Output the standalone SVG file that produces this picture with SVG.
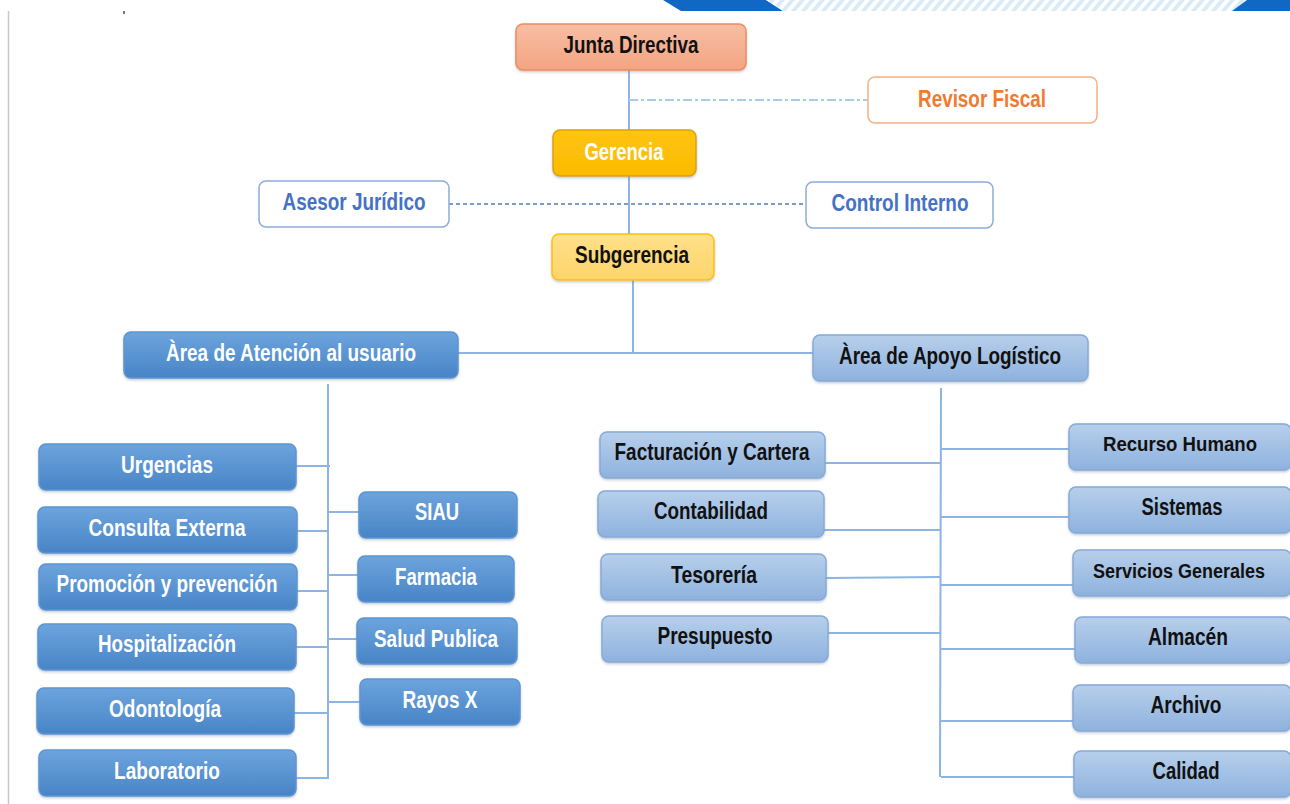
<svg xmlns="http://www.w3.org/2000/svg" width="1290" height="804" viewBox="0 0 1290 804">
<defs>
  <linearGradient id="gBlue" x1="0" y1="0" x2="0" y2="1">
    <stop offset="0" stop-color="#6ca4dd"/>
    <stop offset="1" stop-color="#4884c6"/>
  </linearGradient>
  <linearGradient id="gLight" x1="0" y1="0" x2="0" y2="1">
    <stop offset="0" stop-color="#b7cfeb"/>
    <stop offset="1" stop-color="#8eb2de"/>
  </linearGradient>
  <linearGradient id="gSalmon" x1="0" y1="0" x2="0" y2="1">
    <stop offset="0" stop-color="#f7bea4"/>
    <stop offset="1" stop-color="#f4a482"/>
  </linearGradient>
  <linearGradient id="gGold" x1="0" y1="0" x2="0" y2="1">
    <stop offset="0" stop-color="#ffc411"/>
    <stop offset="1" stop-color="#fbbb00"/>
  </linearGradient>
  <linearGradient id="gSub" x1="0" y1="0" x2="0" y2="1">
    <stop offset="0" stop-color="#ffe08a"/>
    <stop offset="1" stop-color="#fdd46a"/>
  </linearGradient>
  <pattern id="hatch" width="10" height="12" patternUnits="userSpaceOnUse" patternTransform="skewX(-40)">
    <rect width="10" height="12" fill="#ffffff"/>
    <rect width="5" height="12" fill="#d9ebf8"/>
  </pattern>
  <filter id="sh" x="-5%" y="-10%" width="110%" height="130%">
    <feDropShadow dx="0" dy="1.5" stdDeviation="1.2" flood-color="#7a8ea8" flood-opacity="0.45"/>
  </filter>
</defs>
<style>
  .t { font-family: "Liberation Sans", Arial, sans-serif; font-weight: bold; font-size: 23px; text-anchor: middle; }
  .blue rect { fill: url(#gBlue); stroke: #5d95d2; stroke-width: 1.5; filter: url(#sh); }
  .blue text { fill: #ffffff; }
  .light rect { fill: url(#gLight); stroke: #86abd9; stroke-width: 1.5; filter: url(#sh); }
  .light text { fill: #111111; }
  .outline rect { fill: #ffffff; stroke: #8eaadb; stroke-width: 1.5; }
  .outline text { fill: #4472c4; }
  .conn line { stroke: #8db4e2; stroke-width: 2; fill: none; }
</style>

<!-- page decoration -->
<line x1="8.5" y1="11" x2="8.5" y2="804" stroke="#c8c8c8" stroke-width="1.5"/>
<rect x="123" y="11" width="2" height="3" fill="#777777"/>
<polygon points="663,0 766,0 783,11 681,11" fill="#1068c4"/>
<polygon points="766,0 1247,0 1232,11 783,11" fill="url(#hatch)"/>
<polygon points="1247,0 1290,0 1290,11 1232,11" fill="#1068c4"/>

<g id="connectors" class="conn">
  <line x1="629" y1="70" x2="629" y2="130"/>
  <line x1="629" y1="100" x2="868" y2="100" style="stroke:#a8cbeb;stroke-dasharray:9 3 3 3"/>
  <line x1="629" y1="176" x2="629" y2="234"/>
  <line x1="449" y1="204" x2="806" y2="204" style="stroke:#4a7ebb;stroke-width:1.3;stroke-dasharray:4 3"/>
  <line x1="633" y1="280" x2="633" y2="354"/>
  <line x1="458" y1="353" x2="813" y2="353"/>
  <line x1="328" y1="384" x2="328" y2="779"/>
  <line x1="296" y1="466" x2="330" y2="466"/>
  <line x1="297" y1="531" x2="328" y2="531"/>
  <line x1="297" y1="591" x2="328" y2="591"/>
  <line x1="296" y1="647" x2="328" y2="647"/>
  <line x1="294" y1="713" x2="328" y2="713"/>
  <line x1="296" y1="778" x2="328" y2="778"/>
  <line x1="328" y1="512" x2="359" y2="512"/>
  <line x1="328" y1="575" x2="358" y2="575"/>
  <line x1="328" y1="639" x2="357" y2="639"/>
  <line x1="328" y1="702" x2="360" y2="702"/>
  <line x1="941" y1="388" x2="940" y2="777"/>
  <line x1="825" y1="463" x2="941" y2="463"/>
  <line x1="824" y1="530" x2="941" y2="530"/>
  <line x1="826" y1="578" x2="941" y2="577"/>
  <line x1="828" y1="633" x2="941" y2="633"/>
  <line x1="941" y1="449" x2="1069" y2="449"/>
  <line x1="941" y1="517" x2="1069" y2="517"/>
  <line x1="941" y1="585" x2="1073" y2="585"/>
  <line x1="941" y1="649" x2="1075" y2="649"/>
  <line x1="941" y1="721" x2="1073" y2="721"/>
  <line x1="941" y1="777" x2="1074" y2="777"/>
</g>

<g id="junta">
  <rect x="516" y="24" width="230" height="46" rx="7" fill="url(#gSalmon)" stroke="#f08c5e" stroke-width="1.5" filter="url(#sh)"/>
  <text class="t" x="631" y="53" fill="#111111" textLength="135" lengthAdjust="spacingAndGlyphs">Junta Directiva</text>
</g>
<g id="revisor">
  <rect x="868" y="77" width="229" height="46" rx="7" fill="#ffffff" stroke="#f5b184" stroke-width="1.5"/>
  <text class="t" x="982" y="107" fill="#f07a2e" textLength="128" lengthAdjust="spacingAndGlyphs">Revisor Fiscal</text>
</g>
<g id="gerencia">
  <rect x="553" y="130" width="143" height="46" rx="7" fill="url(#gGold)" stroke="#dca200" stroke-width="1.5" filter="url(#sh)"/>
  <text class="t" x="624" y="160" fill="#ffffff" textLength="79" lengthAdjust="spacingAndGlyphs">Gerencia</text>
</g>
<g id="asesor" class="outline">
  <rect x="259" y="181" width="190" height="46" rx="7"/>
  <text class="t" x="354" y="210" textLength="143" lengthAdjust="spacingAndGlyphs">Asesor Jurídico</text>
</g>
<g id="control" class="outline">
  <rect x="806" y="182" width="187" height="46" rx="7"/>
  <text class="t" x="900" y="211" textLength="137" lengthAdjust="spacingAndGlyphs">Control Interno</text>
</g>
<g id="subgerencia">
  <rect x="552" y="234" width="162" height="46" rx="7" fill="url(#gSub)" stroke="#ffc000" stroke-width="1.5" filter="url(#sh)"/>
  <text class="t" x="632" y="263" fill="#111111" textLength="114" lengthAdjust="spacingAndGlyphs">Subgerencia</text>
</g>

<g id="area-atencion" class="blue">
  <rect x="124" y="332" width="334" height="46" rx="7"/>
  <text class="t" x="291" y="361" textLength="250" lengthAdjust="spacingAndGlyphs">Àrea de Atención al usuario</text>
</g>
<g id="area-apoyo" class="light">
  <rect x="813" y="335" width="275" height="46" rx="7"/>
  <text class="t" x="950" y="364" textLength="222" lengthAdjust="spacingAndGlyphs">Àrea de Apoyo Logístico</text>
</g>

<g id="urgencias" class="blue">
  <rect x="39" y="444" width="257" height="46" rx="7"/>
  <text class="t" x="167" y="473" textLength="92" lengthAdjust="spacingAndGlyphs">Urgencias</text>
</g>
<g id="consulta" class="blue">
  <rect x="38" y="507" width="259" height="46" rx="7"/>
  <text class="t" x="167" y="536" textLength="157" lengthAdjust="spacingAndGlyphs">Consulta Externa</text>
</g>
<g id="promocion" class="blue">
  <rect x="39" y="564" width="258" height="46" rx="7"/>
  <text class="t" x="167" y="592" textLength="221" lengthAdjust="spacingAndGlyphs">Promoción y prevención</text>
</g>
<g id="hospitalizacion" class="blue">
  <rect x="38" y="624" width="258" height="46" rx="7"/>
  <text class="t" x="167" y="652" textLength="138" lengthAdjust="spacingAndGlyphs">Hospitalización</text>
</g>
<g id="odontologia" class="blue">
  <rect x="37" y="688" width="257" height="46" rx="7"/>
  <text class="t" x="165" y="717" textLength="112" lengthAdjust="spacingAndGlyphs">Odontología</text>
</g>
<g id="laboratorio" class="blue">
  <rect x="39" y="750" width="257" height="46" rx="7"/>
  <text class="t" x="167" y="779" textLength="106" lengthAdjust="spacingAndGlyphs">Laboratorio</text>
</g>

<g id="siau" class="blue">
  <rect x="359" y="492" width="158" height="46" rx="7"/>
  <text class="t" x="437" y="520" textLength="44" lengthAdjust="spacingAndGlyphs">SIAU</text>
</g>
<g id="farmacia" class="blue">
  <rect x="358" y="556" width="156" height="46" rx="7"/>
  <text class="t" x="436" y="585" textLength="82" lengthAdjust="spacingAndGlyphs">Farmacia</text>
</g>
<g id="salud" class="blue">
  <rect x="357" y="618" width="160" height="46" rx="7"/>
  <text class="t" x="436" y="647" textLength="124" lengthAdjust="spacingAndGlyphs">Salud Publica</text>
</g>
<g id="rayos" class="blue">
  <rect x="360" y="679" width="160" height="46" rx="7"/>
  <text class="t" x="440" y="708" textLength="75" lengthAdjust="spacingAndGlyphs">Rayos X</text>
</g>

<g id="facturacion" class="light">
  <rect x="600" y="432" width="225" height="46" rx="7"/>
  <text class="t" x="712" y="460" textLength="195" lengthAdjust="spacingAndGlyphs">Facturación y Cartera</text>
</g>
<g id="contabilidad" class="light">
  <rect x="598" y="491" width="226" height="46" rx="7"/>
  <text class="t" x="711" y="519" textLength="114" lengthAdjust="spacingAndGlyphs">Contabilidad</text>
</g>
<g id="tesoreria" class="light">
  <rect x="601" y="554" width="225" height="46" rx="7"/>
  <text class="t" x="714" y="583" textLength="86" lengthAdjust="spacingAndGlyphs">Tesorería</text>
</g>
<g id="presupuesto" class="light">
  <rect x="602" y="616" width="226" height="46" rx="7"/>
  <text class="t" x="715" y="644" textLength="115" lengthAdjust="spacingAndGlyphs">Presupuesto</text>
</g>

<g id="recurso" class="light">
  <rect x="1069" y="424" width="222" height="46" rx="7"/>
  <text class="t" x="1180" y="451" style="font-size:21px" textLength="154" lengthAdjust="spacingAndGlyphs">Recurso Humano</text>
</g>
<g id="sistemas" class="light">
  <rect x="1069" y="487" width="222" height="46" rx="7"/>
  <text class="t" x="1182" y="515" textLength="81" lengthAdjust="spacingAndGlyphs">Sistemas</text>
</g>
<g id="servicios" class="light">
  <rect x="1073" y="550" width="218" height="46" rx="7"/>
  <text class="t" x="1179" y="578" style="font-size:19.5px" textLength="172" lengthAdjust="spacingAndGlyphs">Servicios Generales</text>
</g>
<g id="almacen" class="light">
  <rect x="1075" y="617" width="216" height="46" rx="7"/>
  <text class="t" x="1188" y="645" textLength="80" lengthAdjust="spacingAndGlyphs">Almacén</text>
</g>
<g id="archivo" class="light">
  <rect x="1073" y="685" width="218" height="46" rx="7"/>
  <text class="t" x="1186" y="713" textLength="71" lengthAdjust="spacingAndGlyphs">Archivo</text>
</g>
<g id="calidad" class="light">
  <rect x="1074" y="751" width="217" height="46" rx="7"/>
  <text class="t" x="1186" y="779" textLength="67" lengthAdjust="spacingAndGlyphs">Calidad</text>
</g>
</svg>
